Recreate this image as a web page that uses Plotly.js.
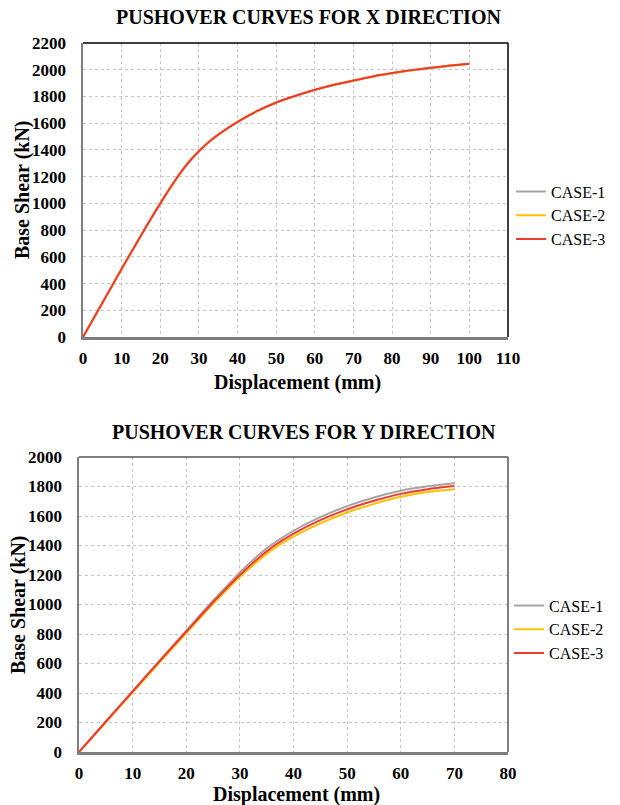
<!DOCTYPE html>
<html>
<head>
<meta charset="utf-8">
<script src="https://cdn.plot.ly/plotly-3.0.1.min.js"></script>
<style>
  html, body { margin: 0; padding: 0; background: #fff; }
  #chart { width: 620px; height: 805px; }
</style>
</head>
<body>
<div id="chart"></div>
<script>
// ---- Data: X direction ----
const xDispX = [0, 5, 10, 15, 20, 25, 28, 30, 33, 36, 40, 45, 50, 55, 60, 65, 70, 75, 80, 85, 90, 95, 100];
const xCase1 = [0, 254, 508, 758, 998, 1218, 1328, 1388, 1468, 1533, 1608, 1688, 1753, 1803, 1848, 1886, 1918, 1948, 1973, 1995, 2013, 2029, 2043];
const xCase2 = [0, 255, 509, 759, 999, 1219, 1329, 1389, 1469, 1534, 1609, 1689, 1754, 1804, 1849, 1887, 1919, 1949, 1974, 1996, 2014, 2030, 2044];
const xCase3 = [0, 255, 510, 760, 1000, 1220, 1330, 1390, 1470, 1535, 1610, 1690, 1755, 1805, 1850, 1888, 1920, 1950, 1975, 1997, 2015, 2031, 2045];

// ---- Data: Y direction ----
const yDispY = [0, 5, 10, 15, 20, 25, 28, 30, 33, 36, 40, 45, 50, 55, 60, 65, 70];
const yCase1 = [0, 207, 413, 620, 823, 1027, 1142, 1218, 1320, 1408, 1500, 1592, 1667, 1726, 1771, 1801, 1822];
const yCase2 = [0, 202, 404, 606, 806, 1004, 1115, 1186, 1283, 1370, 1460, 1550, 1624, 1682, 1730, 1762, 1781];
const yCase3 = [0, 205, 410, 615, 815, 1015, 1128, 1200, 1300, 1388, 1480, 1572, 1645, 1703, 1750, 1782, 1803];

const caseNames = ['CASE-1', 'CASE-2', 'CASE-3'];
const caseColors = ['#a5a5a5', '#ffc000', '#f03a2e'];

const serif = 'Liberation Serif, Times New Roman, serif';

function mk(x, y, i, xa, ya, leg) {
  return {
    type: 'scatter', mode: 'lines', x: x, y: y,
    name: caseNames[i], xaxis: xa, yaxis: ya, legend: leg,
    line: { color: caseColors[i], width: 2, shape: 'spline', smoothing: 0.6 }
  };
}

const traces = [
  mk(xDispX, xCase1, 0, 'x', 'y', 'legend'),
  mk(xDispX, xCase2, 1, 'x', 'y', 'legend'),
  mk(xDispX, xCase3, 2, 'x', 'y', 'legend'),
  mk(yDispY, yCase1, 0, 'x2', 'y2', 'legend2'),
  mk(yDispY, yCase2, 1, 'x2', 'y2', 'legend2'),
  mk(yDispY, yCase3, 2, 'x2', 'y2', 'legend2')
];

const W = 620, H = 805;
const px = v => v / W;
const py = v => 1 - v / H;

function axisBase(extra) {
  return Object.assign({
    showline: true, linecolor: '#7f7f7f', linewidth: 2.5,
    showgrid: true, gridcolor: '#c4c4c4', gridwidth: 1, griddash: 'dot',
    zeroline: false, ticks: '', fixedrange: true,
    tickfont: { family: serif, size: 17, color: '#000', weight: 'bold' }
  }, extra);
}

const titleFont = { family: serif, size: 20, color: '#000', weight: 'bold' };
const legendFont = { family: serif, size: 16, color: '#000' };

const layout = {
  width: W, height: H,
  margin: { l: 0, r: 0, t: 0, b: 0 },
  paper_bgcolor: '#fff', plot_bgcolor: '#fff',
  showlegend: true,
  xaxis: axisBase({ domain: [px(83), px(508)], range: [0, 110], dtick: 10, tick0: 0, anchor: 'y', ticklabelstandoff: 4 }),
  yaxis: axisBase({ domain: [py(337), py(43)], range: [0, 2200], dtick: 200, tick0: 0, anchor: 'x', ticklabelstandoff: 11 }),
  xaxis2: axisBase({ domain: [px(79), px(508)], range: [0, 80], dtick: 10, tick0: 0, anchor: 'y2', ticklabelstandoff: 4 }),
  yaxis2: axisBase({ domain: [py(752), py(457)], range: [0, 2000], dtick: 200, tick0: 0, anchor: 'x2', ticklabelstandoff: 11 }),
  legend: {
    x: px(511), xanchor: 'left', y: py(215.5), yanchor: 'middle',
    font: legendFont, bgcolor: 'rgba(0,0,0,0)', itemwidth: 30, itemclick: false, itemdoubleclick: false
  },
  legend2: {
    x: px(509), xanchor: 'left', y: py(629.5), yanchor: 'middle',
    font: legendFont, bgcolor: 'rgba(0,0,0,0)', itemwidth: 30, itemclick: false, itemdoubleclick: false
  },
  shapes: [
    { type: 'line', xref: 'x domain', yref: 'y domain', x0: 0, x1: 1, y0: 1, y1: 1, line: { color: '#000', width: 1.5 }, layer: 'above' },
    { type: 'line', xref: 'x domain', yref: 'y domain', x0: 1, x1: 1, y0: 0, y1: 1, line: { color: '#000', width: 1.5 }, layer: 'above' },
    { type: 'line', xref: 'x2 domain', yref: 'y2 domain', x0: 0, x1: 1, y0: 1, y1: 1, line: { color: '#555', width: 1.5 }, layer: 'above' },
    { type: 'line', xref: 'x2 domain', yref: 'y2 domain', x0: 1, x1: 1, y0: 0, y1: 1, line: { color: '#555', width: 1.5 }, layer: 'above' }
  ],
  annotations: [
    { text: 'PUSHOVER CURVES FOR X DIRECTION', xref: 'paper', yref: 'paper', x: px(308), y: py(17), xanchor: 'center', yanchor: 'middle', showarrow: false, font: titleFont },
    { text: 'Displacement (mm)', xref: 'paper', yref: 'paper', x: px(297), y: py(382), xanchor: 'center', yanchor: 'middle', showarrow: false, font: titleFont },
    { text: 'Base Shear (kN)', xref: 'paper', yref: 'paper', x: px(22), y: py(190), xanchor: 'center', yanchor: 'middle', showarrow: false, textangle: -90, font: titleFont },
    { text: 'PUSHOVER CURVES FOR Y DIRECTION', xref: 'paper', yref: 'paper', x: px(304), y: py(432), xanchor: 'center', yanchor: 'middle', showarrow: false, font: titleFont },
    { text: 'Displacement (mm)', xref: 'paper', yref: 'paper', x: px(296), y: py(794), xanchor: 'center', yanchor: 'middle', showarrow: false, font: titleFont },
    { text: 'Base Shear (kN)', xref: 'paper', yref: 'paper', x: px(18), y: py(605), xanchor: 'center', yanchor: 'middle', showarrow: false, textangle: -90, font: titleFont }
  ]
};

Plotly.newPlot('chart', traces, layout, { displayModeBar: false, staticPlot: true });
</script>
</body>
</html>
